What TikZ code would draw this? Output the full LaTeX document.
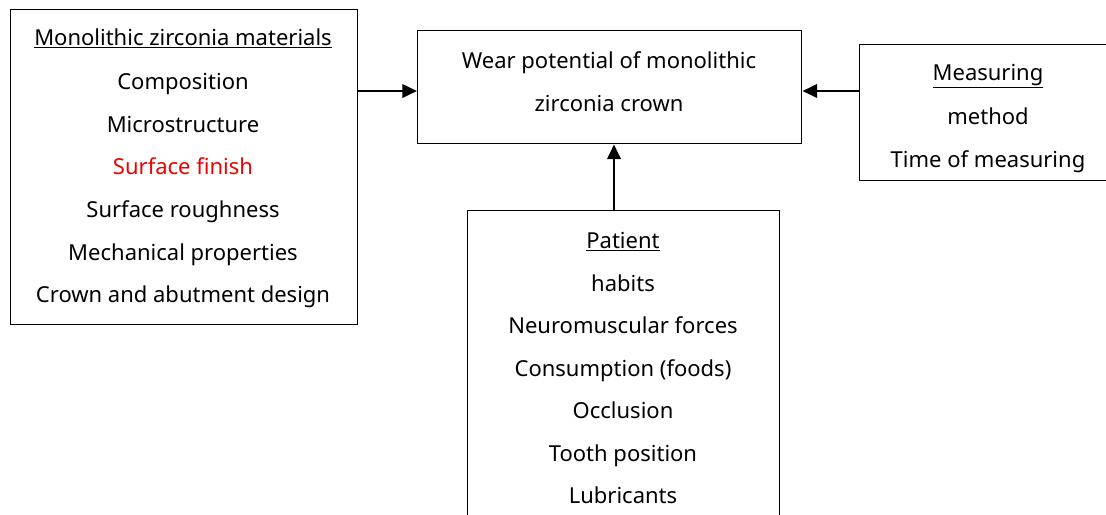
\documentclass[tikz,border=0pt]{standalone}
\usepackage{fontspec}
\setmainfont{Noto Sans}
\usetikzlibrary{arrows.meta}
\definecolor{accentred}{RGB}{240,0,0}
\tikzset{
  box/.style={draw=black, line width=1.1pt, fill=none},
  lbl/.style={anchor=base, inner sep=0pt, font=\fontsize{16.5}{20}\selectfont},
  conn/.style={line width=2pt, -{Triangle[length=11pt,width=10pt]}}
}
\begin{document}
\begin{tikzpicture}[x=0.75pt, y=-0.75pt]
\useasboundingbox (0,0) rectangle (1106,514);
\clip (0,0) rectangle (1106,514);
% boxes
\node[box, anchor=north west, minimum width=347*0.75pt, minimum height=315*0.75pt, inner sep=0pt] (mat) at (10,9) {};
\node[box, anchor=north west, minimum width=384*0.75pt, minimum height=113*0.75pt, inner sep=0pt] (wear) at (417,30) {};
\node[box, anchor=north west, minimum width=270*0.75pt, minimum height=136*0.75pt, inner sep=0pt] (meas) at (859,44) {};
\node[box, anchor=north west, minimum width=312*0.75pt, minimum height=330*0.75pt, inner sep=0pt] (pat) at (467,210) {};
% left box text
\node[lbl] (m1) at (183,45) {\underline{Monolithic zirconia materials}};
\node[lbl] (m2) at (183,89) {Composition};
\node[lbl] (m3) at (183,132) {Microstructure};
\node[lbl, text=accentred] (m4) at (183,174) {Surface finish};
\node[lbl] (m5) at (183,217) {Surface roughness};
\node[lbl] (m6) at (183,260) {Mechanical properties};
\node[lbl] (m7) at (183,302) {Crown and abutment design};
% top box text
\node[lbl] (w1) at (609,68) {Wear potential of monolithic};
\node[lbl] (w2) at (609,111) {zirconia crown};
% right box text
\node[lbl] (r1) at (988,80) {\underline{Measuring}};
\node[lbl] (r2) at (988,124) {method};
\node[lbl] (r3) at (988,167) {Time of measuring};
% patient box text
\node[lbl] (p1) at (623,248) {\underline{Patient}};
\node[lbl] (p2) at (623,291) {habits};
\node[lbl] (p3) at (623,333) {Neuromuscular forces};
\node[lbl] (p4) at (623,376) {Consumption (foods)};
\node[lbl] (p5) at (623,418) {Occlusion};
\node[lbl] (p6) at (623,461) {Tooth position};
\node[lbl] (p7) at (623,503) {Lubricants};
% connectors
\draw[conn] (mat.east |- 0,91) -- (wear.west |- 0,91);
\draw[conn] (meas.west |- 0,91) -- (wear.east |- 0,91);
\draw[conn] (pat.north -| 614,0) -- (wear.south -| 614,0);
\end{tikzpicture}
\end{document}
